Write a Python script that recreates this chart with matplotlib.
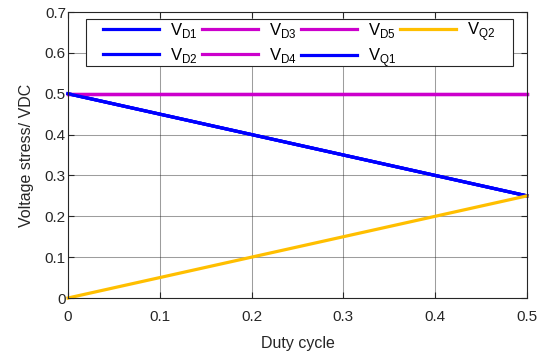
import matplotlib
matplotlib.use("Agg")
import matplotlib.pyplot as plt
from matplotlib.patches import Rectangle

plt.rcParams['font.family'] = ['Liberation Sans', 'DejaVu Sans']
plt.rcParams['mathtext.fontset'] = 'custom'
plt.rcParams['mathtext.rm'] = 'Liberation Sans'

# datos
duty = [0, 0.5]
v_d1 = [0.5, 0.25]
v_d2 = [0.5, 0.25]
v_d3 = [0.5, 0.5]
v_d4 = [0.5, 0.5]
v_d5 = [0.5, 0.5]
v_q1 = [0.5, 0.25]
v_q2 = [0, 0.25]

series = [(v_d1, 'D1', '#0000ff'), (v_d2, 'D2', '#0000ff'),
          (v_d3, 'D3', '#cc00cc'), (v_d4, 'D4', '#cc00cc'),
          (v_d5, 'D5', '#cc00cc'), (v_q1, 'Q1', '#0000ff'),
          (v_q2, 'Q2', '#ffbf00')]

fig = plt.figure(figsize=(5.54, 3.58), dpi=100)
ax = fig.add_axes([68/554, 1-298/358, (527-68)/554, (298-12)/358])

for y, nombre, col in series:
    ax.plot(duty, y, color=col, lw=2.3, label=r'V$_{\rm ' + nombre + '}$', clip_on=False)

ax.set_xlim(0, 0.5)
ax.set_ylim(0, 0.7)
ax.set_xticks([0, 0.1, 0.2, 0.3, 0.4, 0.5])
ax.set_xticklabels(['0', '0.1', '0.2', '0.3', '0.4', '0.5'])
ax.set_yticks([0, 0.1, 0.2, 0.3, 0.4, 0.5, 0.6, 0.7])
ax.set_yticklabels(['0', '0.1', '0.2', '0.3', '0.4', '0.5', '0.6', '0.7'])
ax.tick_params(direction='in', labelsize=11, colors='#262626', length=4,
               top=True, right=True)
ax.tick_params(axis='x', pad=8.5)
ax.tick_params(axis='y', pad=1.5)
ax.grid(True, color='#262626', lw=0.75, alpha=0.45)
ax.set_axisbelow(True)
for s in ax.spines.values():
    s.set_color('#262626')
    s.set_linewidth(0.8)

ax.set_xlabel('Duty cycle', fontsize=11.5, color='#262626', labelpad=9)
ax.set_ylabel('Voltage stress/ VDC', fontsize=11.5, color='#262626', labelpad=7.5)

# caja de la leyenda
caja = Rectangle(((86-68)/459, (298-66)/286), (513-86)/459, (66-19)/286,
                 transform=ax.transAxes, facecolor='white', edgecolor='#262626',
                 lw=0.8, zorder=2.5)
ax.add_patch(caja)

leg = ax.legend(ncol=4, loc='center left', bbox_to_anchor=((103-68)/459, (298-44.5)/286),
                fontsize=12, frameon=False, borderpad=0, borderaxespad=0,
                handlelength=3.36, handletextpad=0.66, columnspacing=0.25,
                labelspacing=0.32)
leg.set_zorder(3)

fig.savefig('out.png', dpi=100)
